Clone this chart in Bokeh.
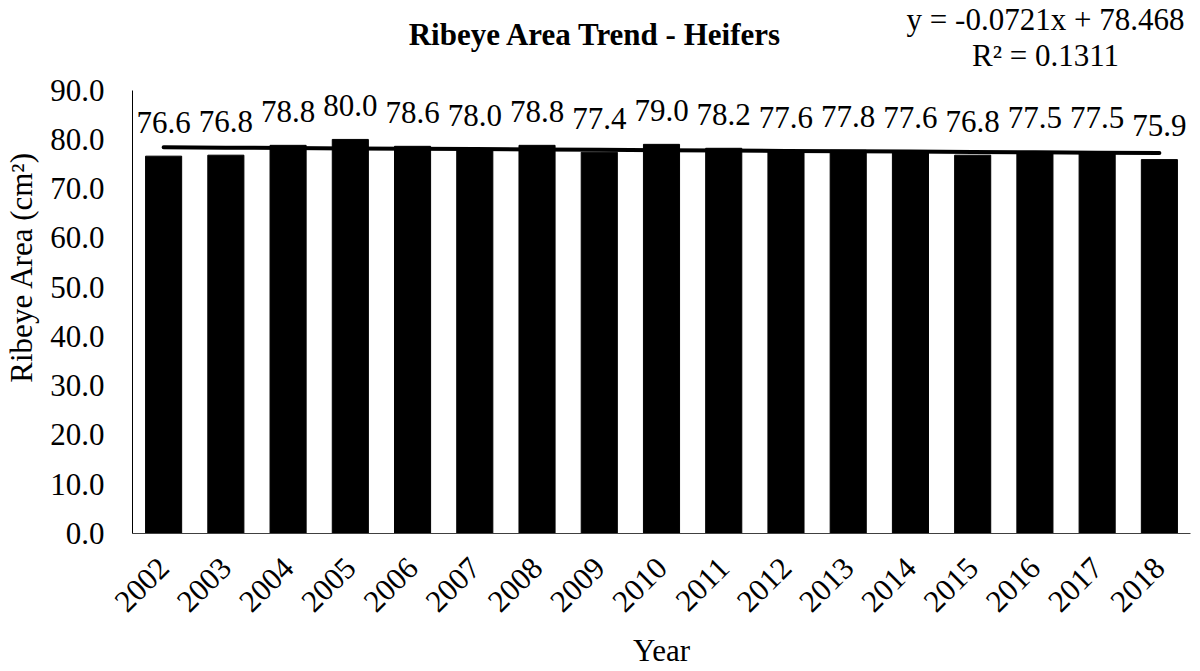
import math
from bokeh.plotting import figure
from bokeh.models import (FactorRange, Range1d, FixedTicker, PrintfTickFormatter,
                          Label, ColumnDataSource)
from bokeh.core.properties import value
from bokeh.embed import file_html
from bokeh.resources import INLINE

# ---- data ----
years = ["2002", "2003", "2004", "2005", "2006", "2007", "2008", "2009", "2010",
         "2011", "2012", "2013", "2014", "2015", "2016", "2017", "2018"]
ribeye = [76.6, 76.8, 78.8, 80.0, 78.6, 78.0, 78.8, 77.4, 79.0,
          78.2, 77.6, 77.8, 77.6, 76.8, 77.5, 77.5, 75.9]
y_ticks = [0, 10, 20, 30, 40, 50, 60, 70, 80, 90]
trend_slope = -0.0721
trend_intercept = 78.468
title_text = "Ribeye Area Trend - Heifers"
eq_line1 = "y = -0.0721x + 78.468"
eq_line2 = "R² = 0.1311"
x_title = "Year"
y_title = "Ribeye Area (cm²)"

FONT = "Liberation Serif"
FS = "31px"

W, H = 1200, 671
FRAME_L, FRAME_R, FRAME_B = 132, 1190, 535
AXIS_MAX = 90
PX_PER_UNIT = 445 / AXIS_MAX          # 0 at y=535, 90 at y=90
Y_TOP = FRAME_B / PX_PER_UNIT         # frame extends to top of canvas

labels = ["%.1f" % v for v in ribeye]
trend = [trend_slope * (i + 1) + trend_intercept for i in range(len(years))]
src = ColumnDataSource(dict(x=years, top=ribeye, lab=labels, trend=trend))

p = figure(width=W, height=H, x_range=FactorRange(*years, range_padding=0),
           y_range=Range1d(0, Y_TOP), output_backend="svg", toolbar_location=None,
           min_border_left=FRAME_L, min_border_right=W - FRAME_R, min_border_top=0,
           min_border_bottom=H - FRAME_B)
p.outline_line_color = None
p.xgrid.grid_line_color = None
p.ygrid.grid_line_color = None
p.background_fill_color = "white"
p.border_fill_color = "white"

p.vbar(x="x", top="top", width=0.58, source=src, fill_color="black",
       line_color="black", line_width=1)
p.line(x="x", y="trend", source=src, line_color="black", line_width=4,
       line_cap="round")
p.text(x="x", y="top", text="lab", source=src, text_align="center",
       text_baseline="alphabetic", y_offset=-34, text_font=value(FONT),
       text_font_size=FS, text_color="black")

# axes
yax = p.yaxis[0]
yax.bounds = (0, AXIS_MAX)
yax.ticker = FixedTicker(ticks=y_ticks)
yax.formatter = PrintfTickFormatter(format="%.1f")
yax.major_tick_line_color = None
yax.minor_tick_line_color = None
yax.major_tick_out = 0
yax.major_tick_in = 0
yax.minor_tick_out = 0
yax.major_label_standoff = 28
yax.major_label_text_font = FONT
yax.major_label_text_font_size = FS
yax.major_label_text_color = "black"
yax.axis_line_color = "black"
yax.axis_label = y_title
yax.axis_label_text_font = FONT
yax.axis_label_text_font_size = FS
yax.axis_label_text_font_style = "normal"
yax.axis_label_text_color = "black"
yax.axis_label_standoff = 8

xax = p.xaxis[0]
xax.major_tick_line_color = None
xax.minor_tick_line_color = None
xax.major_tick_out = 0
xax.major_tick_in = 0
xax.minor_tick_out = 0
xax.major_label_orientation = math.pi / 4
xax.major_label_standoff = 29
xax.major_label_text_font = FONT
xax.major_label_text_font_size = FS
xax.major_label_text_color = "black"
xax.axis_line_color = "#404040"
xax.axis_label = x_title
xax.axis_label_text_font = FONT
xax.axis_label_text_font_size = FS
xax.axis_label_text_font_style = "normal"
xax.axis_label_text_color = "black"
xax.axis_label_standoff = 9

# title and trend equation (screen units measured from the frame's bottom-left)
p.add_layout(Label(x=463, y=499, x_units="screen", y_units="screen",
                   text=title_text, text_align="center", text_baseline="alphabetic",
                   text_font=FONT, text_font_size=FS, text_font_style="bold",
                   text_color="black"))
p.add_layout(Label(x=913, y=514, x_units="screen", y_units="screen",
                   text=eq_line1, text_align="center", text_baseline="alphabetic",
                   text_font=FONT, text_font_size=FS, text_color="black"))
p.add_layout(Label(x=913, y=478, x_units="screen", y_units="screen",
                   text=eq_line2, text_align="center", text_baseline="alphabetic",
                   text_font=FONT, text_font_size=FS, text_color="black"))

open("out.html", "w").write(file_html(p, INLINE))
